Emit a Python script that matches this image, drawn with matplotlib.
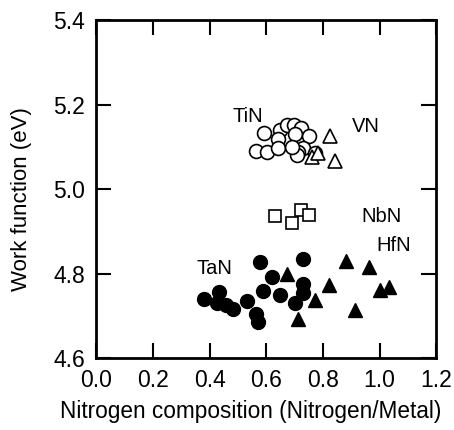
import matplotlib
matplotlib.use("Agg")
import matplotlib.pyplot as plt

plt.rcParams['font.family'] = ['Liberation Sans', 'DejaVu Sans']

tin_x = [0.592, 0.648, 0.674, 0.698, 0.721, 0.640, 0.701, 0.750, 0.562, 0.601, 0.642, 0.730, 0.713, 0.710, 0.771, 0.690]
tin_y = [5.132, 5.140, 5.151, 5.151, 5.144, 5.119, 5.129, 5.125, 5.089, 5.088, 5.096, 5.097, 5.088, 5.080, 5.085, 5.100]

vn_x = [0.824, 0.842, 0.763, 0.782]
vn_y = [5.125, 5.066, 5.075, 5.085]

nbn_x = [0.630, 0.689, 0.721, 0.750]
nbn_y = [4.936, 4.919, 4.951, 4.939]

tan_x = [0.577, 0.730, 0.619, 0.730, 0.730, 0.589, 0.650, 0.701, 0.381, 0.434, 0.425, 0.457, 0.481, 0.533, 0.563, 0.571]
tan_y = [4.828, 4.835, 4.791, 4.776, 4.754, 4.758, 4.748, 4.730, 4.740, 4.756, 4.730, 4.725, 4.717, 4.735, 4.704, 4.685]

hfn_x = [0.672, 0.822, 0.771, 0.713, 0.883, 0.963, 1.001, 1.034, 0.913]
hfn_y = [4.799, 4.772, 4.738, 4.693, 4.829, 4.816, 4.760, 4.768, 4.713]

labels = ['TiN', 'VN', 'NbN', 'TaN', 'HfN']
label_x = [0.482, 0.902, 0.937, 0.355, 0.990]
label_y = [5.172, 5.148, 4.934, 4.812, 4.866]

xticks = [0.0, 0.2, 0.4, 0.6, 0.8, 1.0, 1.2]
yticks = [4.6, 4.8, 5.0, 5.2, 5.4]

fig = plt.figure(figsize=(4.54, 4.30), dpi=100)
ax = fig.add_axes([96.3/454, 1 - 358/430, 340/454, 338/430])

ms = 10
ax.plot(tin_x, tin_y, 'o', ms=ms, mfc='white', mec='black', mew=1.2, ls='none')
ax.plot(vn_x, vn_y, '^', ms=ms, mfc='white', mec='black', mew=1.2, ls='none')
ax.plot(nbn_x, nbn_y, 's', ms=8.5, mfc='white', mec='black', mew=1.2, ls='none')
ax.plot(tan_x, tan_y, 'o', ms=ms, mfc='black', mec='black', ls='none')
ax.plot(hfn_x, hfn_y, '^', ms=ms, mfc='black', mec='black', ls='none')

for t, lx, ly in zip(labels, label_x, label_y):
    ax.text(lx, ly, t, fontsize=14.5, ha='left', va='center')

ax.set_xlim(0.0, 1.2)
ax.set_ylim(4.6, 5.4)
ax.set_xticks(xticks)
ax.set_yticks(yticks)
ax.set_xticklabels([f'{v:.1f}' for v in xticks])
ax.set_yticklabels([f'{v:.1f}' for v in yticks])
ax.tick_params(direction='in', top=True, right=True, length=11, width=1.5, labelsize=16.5, pad=8)
for s in ax.spines.values():
    s.set_linewidth(2)

ax.set_xlabel('Nitrogen composition (Nitrogen/Metal)', fontsize=16.3)
ax.xaxis.set_label_coords(0.455, -0.125)
ax.set_ylabel('Work function (eV)', fontsize=16)
ax.yaxis.set_label_coords(-0.19, 0.47)

fig.savefig('out.png', dpi=100)
